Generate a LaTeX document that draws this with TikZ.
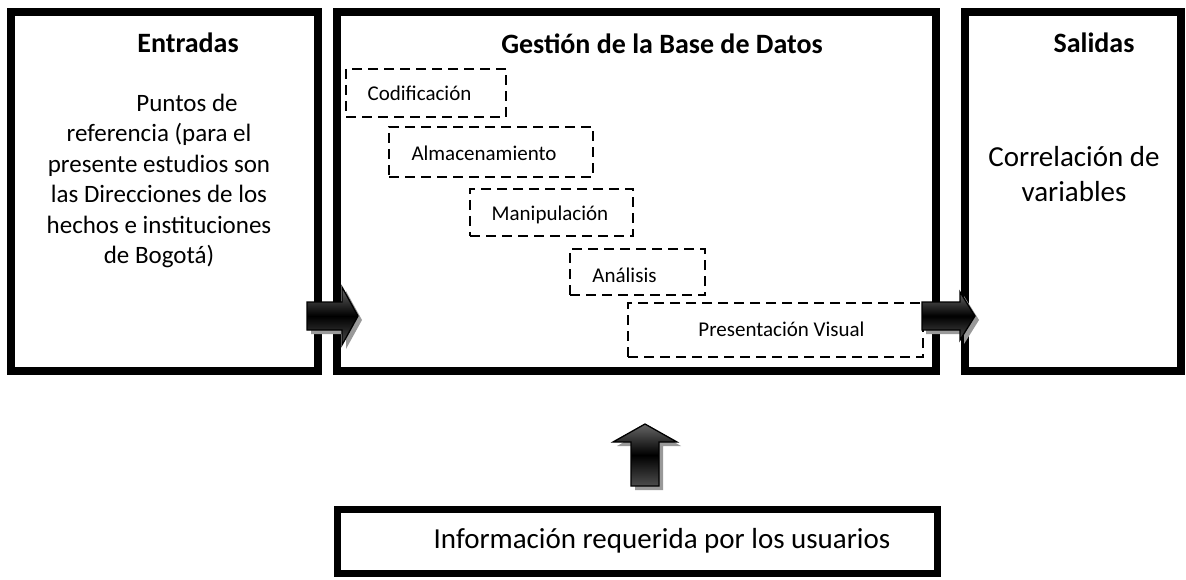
\documentclass[tikz,border=0pt]{standalone}
\usepackage{fontspec}
\setmainfont{Carlito}
\begin{document}
\begin{tikzpicture}[x=1pt,y=-1pt,
  bigbox/.style={draw=black, line width=7.5pt, inner sep=0pt, fill=white},
  dashbox/.style={draw=black, line width=2.5pt, dash pattern=on 10pt off 6pt, inner sep=0pt},
  title/.style={font=\fontsize{28}{32}\selectfont\bfseries, inner sep=0pt},
  body/.style={font=\fontsize{25}{30.5}\selectfont, inner sep=0pt, align=center},
  bigbody/.style={font=\fontsize{29}{35}\selectfont, inner sep=0pt, align=center},
  small/.style={font=\fontsize{21}{24}\selectfont, inner sep=0pt},
  arrowshadow/.style={fill=black!40, draw=none},
  blockarrow/.style={draw=black, line width=1.3pt, line join=miter, top color=black!60, bottom color=black!70, middle color=black}
]
\useasboundingbox (0,0) rectangle (1186,580);
\fill[white] (0,0) rectangle (1186,580);

% main boxes
\node[bigbox, minimum width=307pt, minimum height=359pt] (inbox) at (164.5,191.5) {};
\node[bigbox, minimum width=599pt, minimum height=359pt] (dbbox) at (636.5,191.5) {};
\node[bigbox, minimum width=216pt, minimum height=359pt] (outbox) at (1073,191.5) {};
\node[bigbox, line width=7pt, minimum width=600pt, minimum height=64pt] (userbox) at (637.5,541) {};

% titles
\node[title] (intitle) at (188,43) {Entradas};
\node[title] (dbtitle) at (662,44) {Gestión de la Base de Datos};
\node[title] (outtitle) at (1094,43) {Salidas};

% texts
\node[body] (intext) at (159,181) {\hspace*{56pt}Puntos de\\referencia (para el\\presente estudios son\\las Direcciones de los\\hechos e instituciones\\de Bogotá)};
\node[bigbody] (outtext) at (1074,174) {Correlación de\\variables};
\node[bigbody] (usertext) at (662,541) {Información requerida por los usuarios};

% dashed process boxes
\node[dashbox, minimum width=160pt, minimum height=48pt] (cod) at (426,93) {};
\node[small] (codt) at (419.5,93) {Codificación};
\node[dashbox, minimum width=204pt, minimum height=50pt] (alm) at (491,152) {};
\node[small] (almt) at (484,153) {Almacenamiento};
\node[dashbox, minimum width=163pt, minimum height=47pt] (man) at (551.5,212.5) {};
\node[small] (mant) at (550,215) {Manipulación};
\node[dashbox, minimum width=135pt, minimum height=46pt] (ana) at (637.5,272) {};
\node[small] (anat) at (624.5,275) {Análisis};
\node[dashbox, minimum width=295pt, minimum height=54pt] (pres) at (775.5,330) {};
\node[small] (prest) at (781.5,329) {Presentación Visual};

% block arrows (shadow first)
\path[arrowshadow, shift={(4,4)}] (307,302)--(342,302)--(342,287)--(358,316)--(342,345)--(342,330)--(307,330)--cycle;
\path[blockarrow] (307,302)--(342,302)--(342,287)--(358,316)--(342,345)--(342,330)--(307,330)--cycle;

\path[arrowshadow, shift={(4,4)}] (922,302)--(960,302)--(960,292)--(975,316)--(960,340)--(960,330)--(922,330)--cycle;
\path[blockarrow] (922,302)--(960,302)--(960,292)--(975,316)--(960,340)--(960,330)--(922,330)--cycle;

\path[arrowshadow, shift={(4,4)}] (631,486)--(631,442)--(613,442)--(645,424)--(677,442)--(659,442)--(659,486)--cycle;
\path[blockarrow] (631,486)--(631,442)--(613,442)--(645,424)--(677,442)--(659,442)--(659,486)--cycle;
\end{tikzpicture}
\end{document}
